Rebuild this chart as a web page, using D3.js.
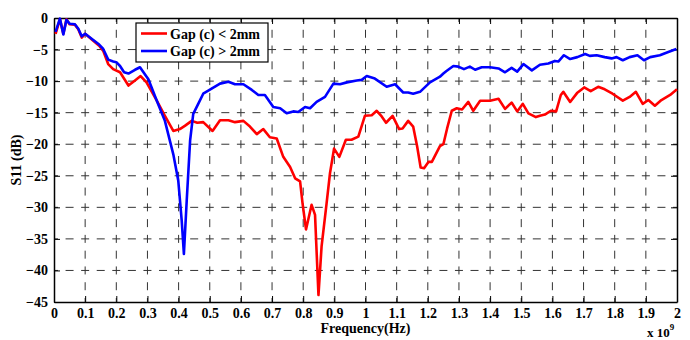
<!DOCTYPE html>
<html>
<head>
<meta charset="utf-8">
<script src="https://cdn.jsdelivr.net/npm/d3@7"></script>
<style>
  body { margin: 0; background: #fff; }
  text { font-family: "Liberation Serif", "Times New Roman", serif; font-weight: bold; fill: #000; }
  .tick text { font-size: 14px; }
  .grid line { stroke: #333; stroke-width: 1; }
</style>
</head>
<body>
<svg width="690" height="340"></svg>
<script>
// frequency in units of 1e9 Hz, S11 in dB
const redFreq = [0.005,0.019,0.03,0.04,0.05,0.067,0.078,0.089,0.1,0.126,0.145,0.158,0.174,0.19,0.212,0.239,0.26,0.278,0.297,0.33,0.356,0.383,0.404,0.42,0.442,0.46,0.479,0.509,0.533,0.56,0.581,0.608,0.629,0.651,0.672,0.693,0.715,0.736,0.758,0.774,0.79,0.798,0.809,0.827,0.838,0.849,0.859,0.875,0.886,0.899,0.916,0.937,0.955,0.977,0.998,1.02,1.036,1.052,1.066,1.087,1.108,1.119,1.137,1.153,1.166,1.177,1.188,1.202,1.213,1.239,1.25,1.262,1.277,1.293,1.31,1.33,1.346,1.368,1.4,1.427,1.448,1.469,1.487,1.505,1.523,1.547,1.56,1.576,1.595,1.612,1.627,1.635,1.657,1.679,1.702,1.723,1.747,1.768,1.793,1.826,1.848,1.868,1.89,1.908,1.929,1.95,1.978,2.0];
const redDb = [-2.5,-0.2,-2.5,-0.2,-1.0,-1.05,-1.8,-3.1,-2.5,-3.6,-4.4,-5.2,-7.3,-8.1,-8.6,-10.7,-9.9,-9.2,-10.2,-13.1,-15.5,-17.9,-17.6,-17.1,-16.3,-16.6,-16.5,-17.9,-16.2,-16.2,-16.5,-16.3,-17.2,-18.4,-17.6,-18.9,-19.1,-22,-23.6,-25.4,-25.9,-29.4,-33.5,-29.6,-31.2,-43.9,-36.2,-29.4,-24.6,-20.7,-22,-19.3,-19.3,-18.8,-15.5,-15.4,-14.7,-15.6,-16.6,-15.5,-17.6,-17.5,-16.3,-17.2,-20.4,-23.7,-23.8,-22.8,-22.8,-20.3,-20,-17.5,-14.7,-14.3,-14.5,-13.3,-14.7,-13.1,-13.1,-12.8,-14.4,-13.4,-14.8,-13.6,-15.1,-15.7,-15.5,-15.3,-14.7,-14.8,-12.2,-11.7,-13.3,-11.9,-11.0,-11.6,-10.9,-11.3,-12.0,-13.1,-12.5,-11.7,-13.6,-13.0,-13.9,-13.0,-12.2,-11.3];

const blueFreq = [0.005,0.019,0.03,0.04,0.05,0.067,0.078,0.089,0.1,0.126,0.145,0.158,0.174,0.19,0.2,0.212,0.225,0.239,0.26,0.276,0.29,0.303,0.33,0.356,0.383,0.399,0.41,0.417,0.426,0.437,0.447,0.463,0.479,0.506,0.533,0.56,0.581,0.608,0.635,0.656,0.677,0.704,0.726,0.747,0.768,0.784,0.806,0.822,0.843,0.87,0.897,0.918,0.94,0.972,0.988,1.004,1.03,1.068,1.095,1.121,1.137,1.153,1.175,1.207,1.239,1.25,1.26,1.282,1.298,1.316,1.335,1.352,1.373,1.4,1.427,1.448,1.469,1.487,1.507,1.534,1.56,1.587,1.608,1.619,1.637,1.657,1.68,1.705,1.72,1.742,1.768,1.79,1.806,1.826,1.848,1.873,1.894,1.914,1.945,1.972,1.998];
const blueDb = [-2.2,-0.1,-2.6,-0.3,-0.9,-1.0,-1.7,-2.9,-2.5,-3.5,-4.2,-4.9,-6.6,-6.9,-7.0,-7.6,-8.6,-8.8,-8.2,-7.8,-8.8,-9.7,-13.1,-16.3,-21.6,-25.8,-32.1,-37.4,-29,-19.4,-15.2,-13.6,-12,-11.2,-10.4,-10.1,-10.5,-10.5,-11.4,-12.2,-12.2,-14.1,-14.3,-15.1,-14.8,-14.9,-14.1,-14.3,-13.3,-12.5,-10.4,-10.5,-10.2,-9.9,-9.8,-9.2,-9.6,-10.9,-10.5,-11.8,-11.8,-12.0,-11.7,-10.2,-9.3,-8.8,-8.4,-7.6,-7.7,-8.1,-7.7,-8.2,-7.8,-7.8,-8.0,-8.6,-7.9,-8.5,-7.3,-8.3,-7.4,-7.2,-6.8,-6.9,-5.9,-6.5,-6.2,-5.7,-6.0,-5.9,-6.2,-6.4,-6.2,-6.7,-6.2,-5.9,-6.7,-6.2,-5.9,-5.4,-4.9];

const xTicks = d3.range(0, 21).map(i => i / 10);
const yTicks = [0, -5, -10, -15, -20, -25, -30, -35, -40, -45];
const seriesNames = ['Gap (c) < 2mm', 'Gap (c) > 2mm'];
const seriesColors = ['#ff0000', '#0000ff'];

const svg = d3.select('svg');
const width = +svg.attr('width');
const height = +svg.attr('height');

var margin = {top: 18, right: 13, bottom: 38, left: 54};
var innerwidth = width - margin.left - margin.right;
var innerheight = height - margin.top - margin.bottom;

const g = svg.append('g')
    .attr('transform', 'translate(' + margin.left + ',' + margin.top + ')');

const xscale = d3.scaleLinear().domain([0, 2]).range([0, innerwidth]);
const yscale = d3.scaleLinear().domain([-45, 0]).range([innerheight, 0]);

// dashed grid, dashes centred on the grid crossings
const xstep = xscale(0.1) - xscale(0);
const ystep = yscale(0) - yscale(5);
const gridG = g.append('g').attr('class', 'grid');
gridG.selectAll('line.v')
    .data(xTicks.slice(1, -1))
    .enter().append('line')
    .attr('x1', d => xscale(d)).attr('x2', d => xscale(d))
    .attr('y1', 0).attr('y2', innerheight)
    .attr('stroke-dasharray', '8,' + (ystep / 2 - 8))
    .attr('stroke-dashoffset', 4);
gridG.selectAll('line.h')
    .data(yTicks.slice(1, -1))
    .enter().append('line')
    .attr('y1', d => yscale(d)).attr('y2', d => yscale(d))
    .attr('x1', 0).attr('x2', innerwidth)
    .attr('stroke-dasharray', '8,' + (xstep / 2 - 8))
    .attr('stroke-dashoffset', 4);

// axes
const xaxisG = g.append('g')
    .attr('transform', 'translate(0,' + innerheight + ')')
    .call(d3.axisBottom(xscale).tickValues(xTicks).tickFormat(d3.format('')).tickSizeInner(-6).tickSizeOuter(0).tickPadding(6));
const yaxisG = g.append('g')
    .call(d3.axisLeft(yscale).tickValues(yTicks).tickSizeInner(-6).tickSizeOuter(0).tickPadding(6));
const topG = g.append('g')
    .call(d3.axisTop(xscale).tickValues(xTicks).tickSizeInner(-6).tickSizeOuter(0).tickFormat(''));
const rightG = g.append('g')
    .attr('transform', 'translate(' + innerwidth + ',0)')
    .call(d3.axisRight(yscale).tickValues(yTicks).tickSizeInner(-6).tickSizeOuter(0).tickFormat(''));

[xaxisG, yaxisG, topG, rightG].forEach(a => {
    a.select('.domain').attr('stroke', '#000').attr('stroke-width', 1.5);
    a.selectAll('.tick line').attr('stroke', '#000');
    a.selectAll('.tick text').attr('fill', '#000');
});
yaxisG.selectAll('.tick text').attr('font-size', 14);
xaxisG.selectAll('.tick text').attr('font-size', 14);

// curves
const line = d3.line()
    .x(d => xscale(d[0]))
    .y(d => yscale(d[1]));

const series = [
    d3.zip(redFreq, redDb),
    d3.zip(blueFreq, blueDb)
];

g.selectAll('path.curve')
    .data(series)
    .enter().append('path')
    .attr('class', 'curve')
    .attr('d', line)
    .attr('fill', 'none')
    .attr('stroke', (d, i) => seriesColors[i])
    .attr('stroke-width', 2.6)
    .attr('stroke-linejoin', 'round');

// labels
g.append('text')
    .attr('x', innerwidth / 2)
    .attr('y', innerheight + 31)
    .attr('text-anchor', 'middle')
    .attr('font-size', 14)
    .text('Frequency(Hz)');

g.append('text')
    .attr('transform', 'translate(' + (-33) + ',' + (innerheight / 2) + ') rotate(-90)')
    .attr('text-anchor', 'middle')
    .attr('font-size', 14)
    .text('S11 (dB)');

const expo = g.append('text')
    .attr('x', innerwidth - 30)
    .attr('y', innerheight + 35)
    .attr('font-size', 13);
expo.append('tspan').text('x 10');
expo.append('tspan').attr('dy', -7).attr('font-size', 9).text('9');

// legend
const legend = g.append('g')
    .attr('transform', 'translate(' + (136 - margin.left) + ',' + (23 - margin.top) + ')');
legend.append('rect')
    .attr('width', 132).attr('height', 39)
    .attr('fill', '#fff').attr('stroke', '#000').attr('stroke-width', 1.2);
seriesNames.forEach((name, i) => {
    const ly = 10.5 + i * 17.5;
    legend.append('line')
        .attr('x1', 5).attr('x2', 31)
        .attr('y1', ly).attr('y2', ly)
        .attr('stroke', seriesColors[i]).attr('stroke-width', 2.6);
    legend.append('text')
        .attr('x', 34).attr('y', ly + 5)
        .attr('font-size', 14)
        .text(name);
});
</script>
</body>
</html>
